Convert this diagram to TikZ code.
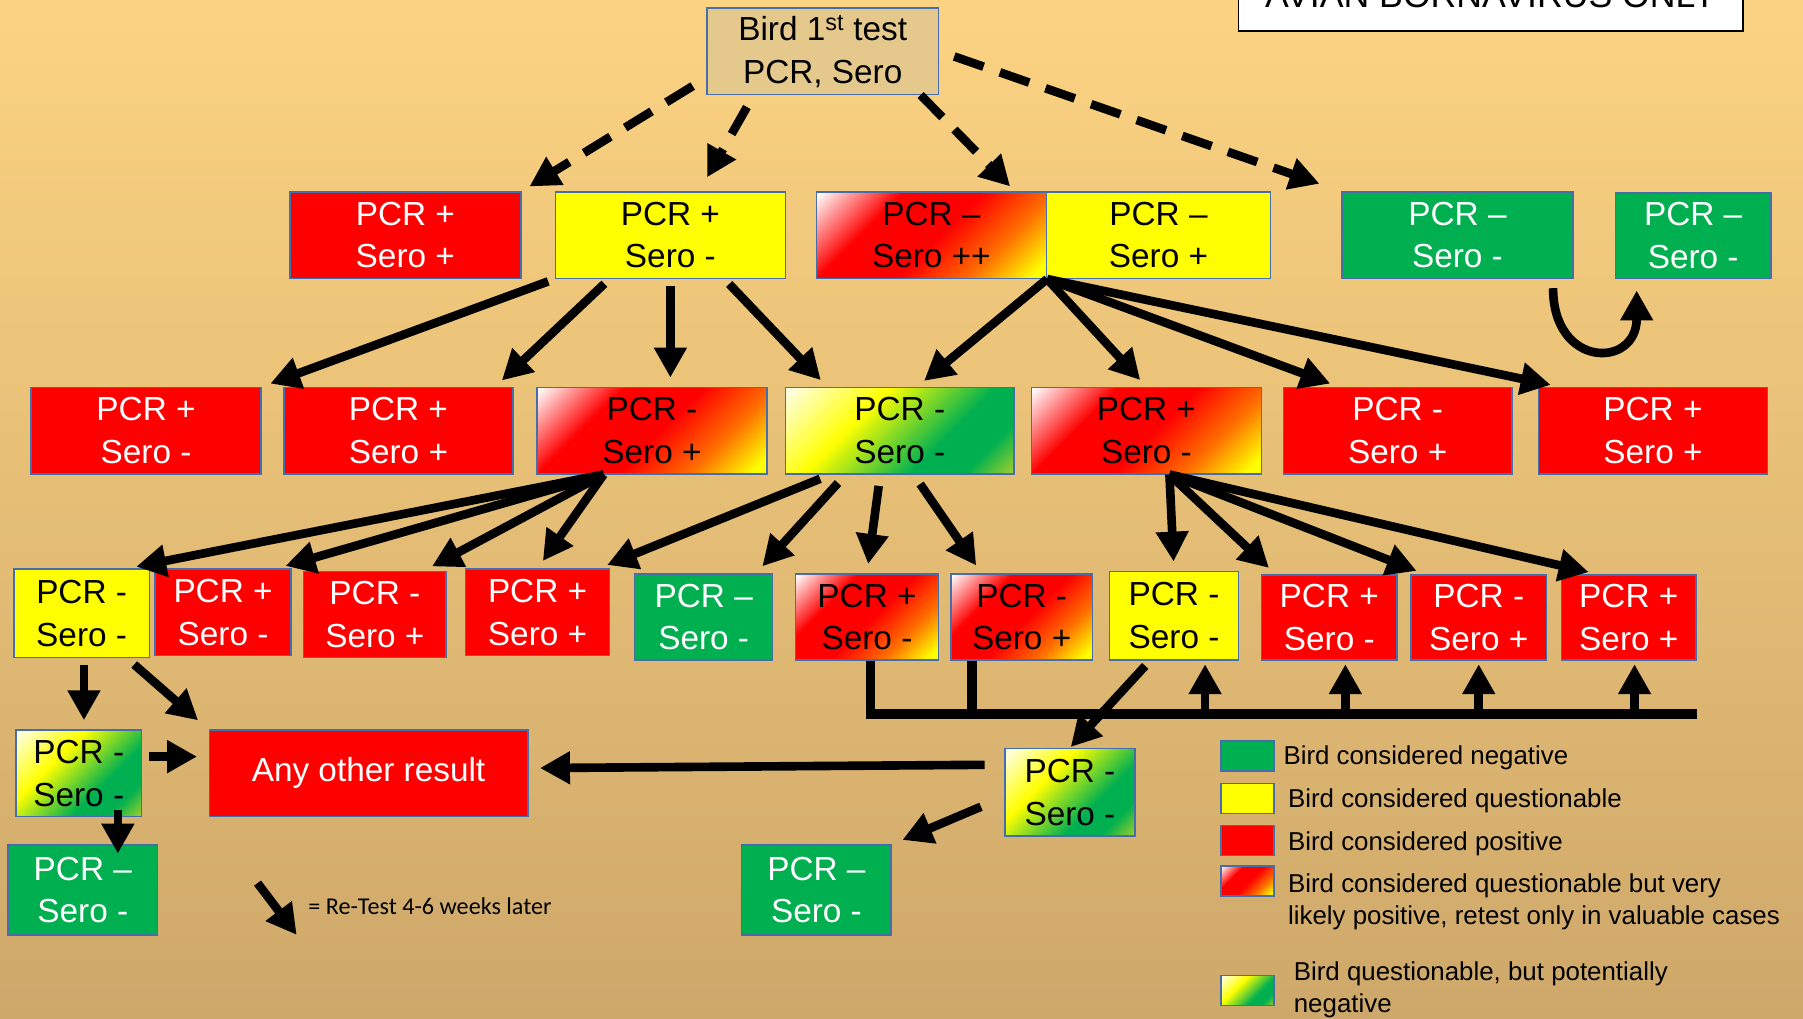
\documentclass[tikz,border=0pt]{standalone}
\usepackage{fontspec}
\setmainfont{Liberation Sans}
\newfontfamily\notefont{Carlito}
\usetikzlibrary{arrows.meta}

\definecolor{bgtop}{RGB}{252,211,130}
\definecolor{bgbot}{RGB}{206,168,106}
\definecolor{boxline}{RGB}{70,110,170}
\definecolor{posred}{RGB}{255,0,0}
\definecolor{neggreen}{RGB}{0,176,80}
\definecolor{questyellow}{RGB}{255,255,0}
\definecolor{birdtan}{RGB}{229,200,140}
\definecolor{midorange}{RGB}{255,110,0}
\definecolor{paleyellow}{RGB}{255,255,225}
\definecolor{limegreen}{RGB}{170,210,40}

\pgfdeclarehorizontalshading{shadepos}{100bp}{color(0bp)=(white); color(15bp)=(white);
  color(34bp)=(posred); color(52bp)=(posred); color(68bp)=(midorange);
  color(82bp)=(questyellow); color(100bp)=(questyellow)}
\pgfdeclarehorizontalshading{shadeneg}{100bp}{color(0bp)=(white); color(16bp)=(paleyellow);
  color(38bp)=(questyellow); color(62bp)=(neggreen); color(74bp)=(neggreen);
  color(86bp)=(limegreen); color(100bp)=(limegreen)}

\newcommand\resfont{\fontsize{29}{37}\selectfont}
\newcommand\keyfont{\fontsize{22.5}{28}\selectfont}
\newcommand\titlefont{\fontsize{31}{37}\selectfont}

\begin{document}
\begin{tikzpicture}[x=1pt, y=-1pt,
    result/.style = {draw=boxline, line width=1.3pt, inner sep=0pt,
        minimum height=75pt, align=center, font=\resfont},
    posbox/.style = {result, fill=posred, text=white, minimum width=#1},
    negbox/.style = {result, fill=neggreen, text=white, minimum width=#1},
    questbox/.style = {result, fill=questyellow, minimum width=#1},
    posgrad/.style = {result, shade, shading=shadepos, shading angle=-45, minimum width=#1},
    neggrad/.style = {result, shade, shading=shadeneg, shading angle=-45, minimum width=#1},
    arr/.style = {line width=7.5pt, -{Triangle[length=26pt,width=27pt]},
        shorten <=6pt, shorten >=8pt},
    dasharr/.style = {arr, dash pattern=on 27pt off 15pt},
    busline/.style = {line width=8.5pt},
    key/.style = {draw=boxline, line width=1.3pt, minimum width=46pt,
        minimum height=26pt, inner sep=0pt},
    keytext/.style = {anchor=west, align=left, inner sep=0pt, font=\keyfont}]

\useasboundingbox (0,0) rectangle (1568,886);
\clip (0,0) rectangle (1568,886);
\fill[top color=bgtop, bottom color=bgbot] (0,0) rectangle (1568,886);

% title
\node[draw=black, fill=white, line width=1.5pt, minimum width=439pt,
    minimum height=62pt, font=\titlefont] (title) at (1296.5,-4) {AVIAN BORNAVIRUS ONLY};

% first test
\node[result, fill=birdtan, minimum width=201pt] (bird) at (715.5,44.5)
    {Bird 1\textsuperscript{st} test\\PCR, Sero};

% first results
\node[posbox=201pt] (a1) at (352.5,204.5) {PCR +\\Sero +};
\node[questbox=200pt] (a2) at (583,204.5) {PCR +\\Sero -};
\node[posgrad=200pt] (a3) at (810,204.5) {PCR –\\Sero ++};
\node[questbox=195pt] (a4) at (1007.5,204.5) {PCR –\\Sero +};
\node[negbox=201pt] (a5) at (1267.5,204.5) {PCR –\\Sero -};
\node[negbox=135pt, minimum height=74pt] (a6) at (1472.5,205) {PCR –\\Sero -};

% second results
\node[posbox=200pt] (b1) at (127,374.5) {PCR +\\Sero -};
\node[posbox=199pt] (b2) at (346.5,374.5) {PCR +\\Sero +};
\node[posgrad=200pt] (b3) at (567,374.5) {PCR -\\Sero +};
\node[neggrad=199pt] (b4) at (782.5,374.5) {PCR -\\Sero -};
\node[posgrad=200pt] (b5) at (997,374.5) {PCR +\\Sero -};
\node[posbox=199pt] (b6) at (1215.5,374.5) {PCR -\\Sero +};
\node[posbox=199pt] (b7) at (1437.5,374.5) {PCR +\\Sero +};

% third results
\node[questbox=118pt, minimum height=77pt] (c1) at (71,533.5) {PCR -\\Sero -};
\node[posbox=118pt] (c2) at (194,532.5) {PCR +\\Sero -};
\node[posbox=124pt] (c3) at (326,534.5) {PCR -\\Sero +};
\node[posbox=125pt] (c4) at (467.5,532.5) {PCR +\\Sero +};
\node[negbox=120pt] (c5) at (612,536.5) {PCR –\\Sero -};
\node[posgrad=124pt] (c6) at (754,536.5) {PCR +\\Sero -};
\node[posgrad=123pt] (c7) at (888.5,536.5) {PCR -\\Sero +};
\node[questbox=112pt, minimum height=77pt] (c8) at (1021,535.5) {PCR -\\Sero -};
\node[posbox=118pt, minimum height=74pt] (c9) at (1156,537) {PCR +\\Sero -};
\node[posbox=118pt, minimum height=74pt] (c10) at (1286,537) {PCR -\\Sero +};
\node[posbox=117pt, minimum height=74pt] (c11) at (1416.5,537) {PCR +\\Sero +};

% fourth results
\node[neggrad=109pt] (d1) at (68.5,672.5) {PCR -\\Sero -};
\node[posbox=277pt] (any) at (320.5,672.5) {Any other result};
\node[negbox=130pt, minimum height=78pt] (e1) at (72,774) {PCR –\\Sero -};
\node[neggrad=113pt, minimum height=76pt] (f1) at (930.5,689) {PCR -\\Sero -};
\node[negbox=130pt, minimum height=78pt] (g1) at (710,774) {PCR –\\Sero -};

% from the first test
\draw[dasharr, shorten <=14pt] ([yshift=-23pt]bird.west) -- (a1.north east);
\draw[dasharr, shorten <=12pt, shorten >=14pt] ([xshift=-60pt]bird.south) -- ([xshift=25pt]a2.north);
\draw[dasharr, shorten <=0pt, shorten >=6pt] ([xshift=-16pt]bird.south east) -- ([xshift=-28pt]a3.north east);
\draw[dasharr, shorten <=14pt, shorten >=20pt] (bird.east) -- (a5.north west);
\draw[arr, shorten <=8pt, shorten >=10pt] ([xshift=-18pt]a5.south east)
    .. controls +(0,78) and +(0,78) .. ([xshift=19pt]a6.south west);

% PCR + Sero -
\draw[arr] (a2.south west) -- (b1.north east);
\draw[arr] ([xshift=-53pt]a2.south) -- ([xshift=-16pt]b2.north east);
\draw[arr] (a2.south) -- (a2.south |- b3.north);
\draw[arr] ([xshift=47pt]a2.south) -- ([xshift=37pt]b4.north west);

% PCR - Sero ++ / Sero +
\draw[arr, shorten <=0pt] (a3.south east) -- ([xshift=15pt]b4.north);
\draw[arr, shorten <=0pt] (a3.south east) -- (b5.north);
\draw[arr, shorten <=0pt] (a3.south east) -- ([xshift=49pt]b6.north west);
\draw[arr, shorten <=0pt] (a3.south east) -- ([xshift=19pt]b7.north west);

% second round
\draw[arr, shorten <=0pt] ([xshift=-42pt]b3.south) -- ([xshift=-20pt]c1.north east);
\draw[arr, shorten <=0pt] ([xshift=-42pt]b3.south) -- ([xshift=-13pt]c2.north east);
\draw[arr, shorten <=0pt] ([xshift=-42pt]b3.south) -- ([xshift=-20pt]c3.north east);
\draw[arr, shorten <=0pt] ([xshift=-42pt]b3.south) -- (c4.north);
\draw[arr, shorten <=10pt] ([xshift=-60pt]b4.south) -- ([xshift=-10pt]c4.north east);
\draw[arr, shorten <=10pt] ([xshift=-47pt]b4.south) -- ([xshift=-15pt]c5.north east);
\draw[arr, shorten <=10pt] ([xshift=-17pt]b4.south) -- (c6.north);
\draw[arr, shorten <=10pt] ([xshift=12pt]b4.south) -- ([xshift=-35pt]c7.north);
\draw[arr, shorten <=0pt] ([xshift=20pt]b5.south) -- (c8.north);
\draw[arr, shorten <=0pt] ([xshift=20pt]b5.south) -- ([xshift=13pt]c9.north west);
\draw[arr, shorten <=0pt] ([xshift=20pt]b5.south) -- ([xshift=13pt]c10.north west);
\draw[arr, shorten <=0pt] ([xshift=20pt]b5.south) -- ([xshift=32pt]c11.north west);

% third round, left
\draw[arr] ([xshift=2pt]c1.south) -- ([xshift=2pt]c1.south |- d1.north);
\draw[arr, shorten <=8pt, shorten >=12pt] ([xshift=-20pt]c1.south east) -- (any.north west);
\draw[arr, shorten >=10pt] ([yshift=14.5pt]d1.east) -- ([yshift=14.5pt]any.west);
\draw[arr, shorten <=-6pt, shorten >=-8pt] ([xshift=34pt]d1.south) -- ([xshift=34pt]d1.south |- e1.north);

% third round, right
\coordinate (busL) at (753,621);
\coordinate (busR) at (1476,621);
\draw[busline] ([xshift=3pt]c6.south) -- ([xshift=3pt]c6.south |- busL) -- (busR);
\draw[busline] ([xshift=-43pt]c7.south) -- ([xshift=-43pt]c7.south |- busL);
\draw[arr, shorten <=0pt, shorten >=3pt] ([xshift=27pt]c8.south |- busL) -- ([xshift=27pt]c8.south);
\draw[arr, shorten <=0pt, shorten >=3pt] ([xshift=14pt]c9.south |- busL) -- ([xshift=14pt]c9.south);
\draw[arr, shorten <=0pt, shorten >=3pt] (c10.south |- busL) -- (c10.south);
\draw[arr, shorten <=0pt, shorten >=3pt] ([xshift=5pt]c11.south |- busL) -- ([xshift=5pt]c11.south);
\draw[arr, shorten <=6pt, shorten >=1pt] ([xshift=-21pt]c8.south) -- (f1.north);
\draw[arr, shorten <=17pt, shorten >=10pt] ([yshift=24pt]f1.west) -- ([yshift=4.5pt]any.east);
\draw[arr, shorten <=22pt, shorten >=10pt] ([yshift=-4pt]f1.west) -- (g1.north east);

% retest note
\coordinate (retestA) at (224,768);
\coordinate (retestB) at (258,813);
\draw[arr, shorten <=0pt, shorten >=0pt] (retestA) -- (retestB);
\node[anchor=west, inner sep=0pt, font=\notefont\fontsize{21}{25}\selectfont] (retest)
    at (268,788) {= Re-Test 4-6 weeks later};

% legend
\node[key, fill=neggreen] (keyneg) at (1085,657.5) {};
\node[keytext] (keynegtext) at (1116,659) {Bird considered negative};
\node[key, fill=questyellow] (keyquest) at (1085,694.5) {};
\node[keytext] (keyquesttext) at (1120,696) {Bird considered questionable};
\node[key, fill=posred] (keypos) at (1085,731) {};
\node[keytext] (keypostext) at (1120,734) {Bird considered positive};
\node[key, shade, shading=shadepos, shading angle=-45] (keylikelypos) at (1085,766) {};
\node[keytext] (keylikelypostext) at (1120,784)
    {Bird considered questionable but very\\likely positive, retest only in valuable cases};
\node[key, shade, shading=shadeneg, shading angle=-45] (keylikelyneg) at (1085,861.5) {};
\node[keytext] (keylikelynegtext) at (1125,861) {Bird questionable, but potentially\\negative};
\end{tikzpicture}
\end{document}
